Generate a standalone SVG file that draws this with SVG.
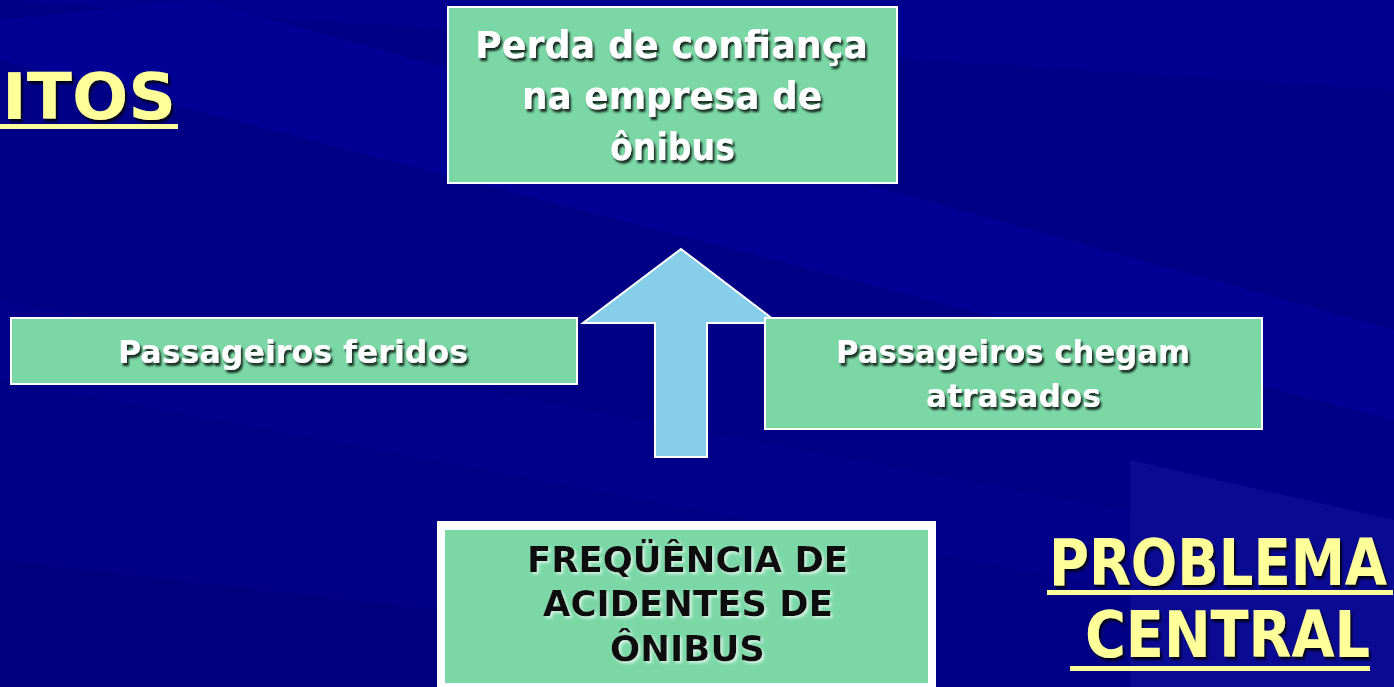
<svg xmlns="http://www.w3.org/2000/svg" width="1394" height="687" viewBox="0 0 1394 687">
<style>
.box{fill:#7BD8A6;stroke:#ffffff;stroke-width:2}
.wt{font-family:"DejaVu Sans","Liberation Sans",sans-serif;font-weight:bold;fill:#ffffff;filter:url(#sh)}
.bk{font-family:"DejaVu Sans","Liberation Sans",sans-serif;font-weight:bold;fill:#111111;filter:url(#shl)}
.yl{font-family:"DejaVu Sans","Liberation Sans",sans-serif;font-weight:bold;fill:#FFFF99;filter:url(#sh)}
.ul{fill:#FFFF99}
</style>
<defs>
<filter id="sh" x="-10%" y="-20%" width="130%" height="150%"><feDropShadow dx="2" dy="3" stdDeviation="1" flood-color="#000000" flood-opacity="0.8"/></filter>
<filter id="shl" x="-10%" y="-20%" width="130%" height="150%"><feDropShadow dx="2" dy="2" stdDeviation="1.5" flood-color="#ffffff" flood-opacity="0.7"/></filter>
</defs>
<rect width="1394" height="687" fill="#000086"/>
<g opacity="0.5">
<polygon points="0,0 1394,0 1394,90 0,0" fill="#00009A"/>
<polygon points="200,0 1394,330 1394,420 0,60 0,20" fill="#0000A2"/>
<polygon points="0,300 1394,560 1394,640 0,380" fill="#00008F"/>
<polygon points="1130,460 1394,520 1394,687 1130,687" fill="#1515A0"/>
<polygon points="0,560 700,640 700,687 0,687" fill="#00007A"/>
</g>
<g id="label-efeitos">
<text class="yl" x="2" y="119" font-size="64" textLength="174" lengthAdjust="spacingAndGlyphs">ITOS</text>
<rect class="ul" x="0" y="124" width="178" height="5"/>
</g>
<g id="label-problema">
<text class="yl" x="1049" y="585" font-size="64" textLength="338" lengthAdjust="spacingAndGlyphs">PROBLEMA</text>
<rect class="ul" x="1047" y="590" width="346" height="5"/>
<text class="yl" x="1085" y="657" font-size="64" textLength="285" lengthAdjust="spacingAndGlyphs">CENTRAL</text>
<rect class="ul" x="1070" y="666" width="300" height="5"/>
</g>
<g id="connectors">
<polygon points="681,249 778,323 707,323 707,457 655,457 655,323 583,323" fill="#87CEEB" stroke="#ffffff" stroke-width="2" stroke-linejoin="miter"/>
</g>
<g id="node-perda">
<rect class="box" x="448" y="7" width="449" height="176"/>
<text class="wt" x="475" y="58" font-size="37" textLength="393" lengthAdjust="spacingAndGlyphs">Perda de confiança</text>
<text class="wt" x="522" y="109" font-size="37" textLength="300" lengthAdjust="spacingAndGlyphs">na empresa de</text>
<text class="wt" x="610" y="160" font-size="37" textLength="125" lengthAdjust="spacingAndGlyphs">ônibus</text>
</g>
<g id="node-feridos">
<rect class="box" x="11" y="318" width="566" height="66"/>
<text class="wt" x="118" y="363" font-size="32" textLength="350" lengthAdjust="spacingAndGlyphs">Passageiros feridos</text>
</g>
<g id="node-atrasados">
<rect class="box" x="765" y="318" width="497" height="111"/>
<text class="wt" x="836" y="363" font-size="32" textLength="354" lengthAdjust="spacingAndGlyphs">Passageiros chegam</text>
<text class="wt" x="926" y="407" font-size="32" textLength="175" lengthAdjust="spacingAndGlyphs">atrasados</text>
</g>
<g id="node-frequencia">
<rect x="437" y="521" width="499" height="170" fill="#ffffff"/>
<rect x="445" y="530" width="483" height="153" fill="#7BD8A6"/>
<text class="bk" x="527" y="572" font-size="36" textLength="321" lengthAdjust="spacingAndGlyphs">FREQÜÊNCIA DE</text>
<text class="bk" x="543" y="616" font-size="36" textLength="290" lengthAdjust="spacingAndGlyphs">ACIDENTES DE</text>
<text class="bk" x="610" y="661" font-size="36" textLength="155" lengthAdjust="spacingAndGlyphs">ÔNIBUS</text>
</g>
</svg>
